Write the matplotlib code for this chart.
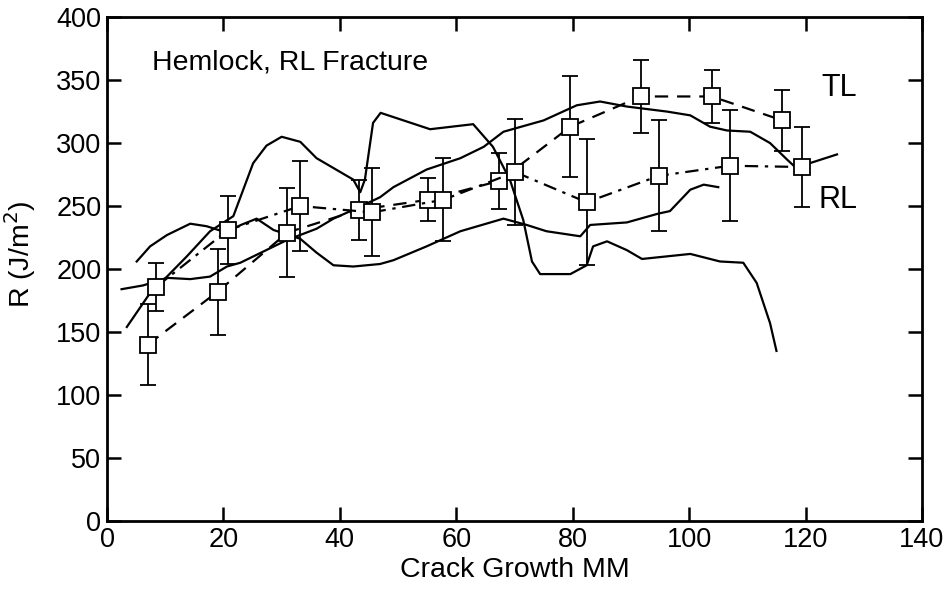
import matplotlib.pyplot as plt
import numpy as np

plt.rcParams['font.family'] = ['Liberation Sans', 'DejaVu Sans']

# TL averages (dashed) with error bars
tl_x = [7, 19, 31, 43.3, 55.2, 67.4, 79.6, 91.7, 103.9, 116]
tl_y = [140, 182, 229, 247, 255, 270, 313, 337, 337, 318]
tl_err = [32, 34, 35, 24, 17, 22, 40, 29, 21, 24]

# RL averages (dash-dot) with error bars
rl_x = [8.5, 20.8, 33.2, 45.5, 57.8, 70.1, 82.4, 94.8, 107, 119.4]
rl_y = [186, 231, 250, 245, 255, 277, 253, 274, 282, 281]
rl_err = [19, 27, 36, 35, 33, 42, 50, 44, 44, 32]

# individual test curves (solid)
a_x = [3.4, 7.4, 10.3, 13.7, 17.7, 21.7, 23.4, 25.1, 27.4, 30, 33.2, 36, 42.3, 43.5,
       44.3, 45.7, 47, 55.5, 62.9, 66.3, 69.2, 71.5, 73, 74.4, 79.6, 82.4, 83.5,
       85.9, 89.3, 91.9, 100.2, 105.3, 109.3, 111.6, 113.9, 115]
a_y = [154, 181, 194, 210, 230, 242, 263, 284, 298, 305, 301, 288, 271, 261,
       271, 316, 324, 311, 315, 297, 271, 239, 206, 196, 196, 203, 218,
       222, 215, 208, 212, 206, 205, 189, 157, 135]

b_x = [5.1, 7.4, 10.3, 14.3, 17.1, 20.5, 23, 25.7, 28.6, 33.2, 36, 38.9, 42.3, 46.9,
       49.2, 54.9, 60.7, 68.1, 72.1, 75.5, 81.3, 83, 89.3, 94.7, 96.7, 100.2,
       102.5, 105]
b_y = [206, 218, 227, 236, 234, 229, 235, 240, 231, 224, 213, 203, 202, 204,
       207, 218, 230, 240, 235, 230, 226, 235, 237, 244, 246, 263,
       267, 265]

c_x = [2.5, 6.2, 10.3, 14.3, 17.7, 20.6, 22.9, 26.9, 30.9, 36, 38.9, 42.3, 46.9,
       49.2, 54.9, 60.7, 64.7, 68.1, 75, 80.7, 84.7, 89.3, 96.2, 100.2, 103.6,
       106.5, 110.5, 113.9, 116.8, 118.2, 120.7, 125.4]
c_y = [184, 187, 193, 192, 194, 202, 205, 214, 223, 232, 240, 247, 257,
       265, 279, 288, 297, 309, 318, 330, 333, 329, 325, 322, 313,
       310, 309, 300, 287, 281, 284, 291]

fig = plt.figure(figsize=(9.47, 5.90), dpi=100)
ax = fig.add_axes([0.113, 0.117, 0.8606, 0.854])

for cx, cy in [(a_x, a_y), (b_x, b_y), (c_x, c_y)]:
    ax.plot(cx, cy, color='black', lw=1.6)

ax.errorbar(tl_x, tl_y, yerr=tl_err, color='black', ls=(0, (6, 4)), lw=1.6,
            marker='s', ms=11, mfc='white', mec='black', mew=1.3,
            ecolor='black', elinewidth=1.3, capsize=6, capthick=1.3)
ax.errorbar(rl_x, rl_y, yerr=rl_err, color='black', ls=(0, (6, 3, 1.5, 3)), lw=1.6,
            marker='s', ms=11, mfc='white', mec='black', mew=1.3,
            ecolor='black', elinewidth=1.3, capsize=6, capthick=1.3)

ax.text(7.7, 364, 'Hemlock, RL Fracture', fontsize=20.5, va='center')
ax.text(122.8, 344, 'TL', fontsize=22, va='center')
ax.text(122.3, 255, 'RL', fontsize=22, va='center')

ax.set_xlim(0, 140)
ax.set_ylim(0, 400)
ax.set_xticks(np.arange(0, 141, 20))
ax.set_yticks(np.arange(0, 401, 50))
ax.tick_params(direction='in', length=10, width=1.8, labelsize=19.5,
               top=True, right=True, pad=4)
for s in ax.spines.values():
    s.set_linewidth(2)
ax.set_xlabel('Crack Growth MM', fontsize=20.5, labelpad=3)
ax.set_ylabel('R (J/m$^2$)', fontsize=20.5)
ax.yaxis.set_label_coords(-0.085, 0.53)

fig.savefig('out.png', dpi=100)
